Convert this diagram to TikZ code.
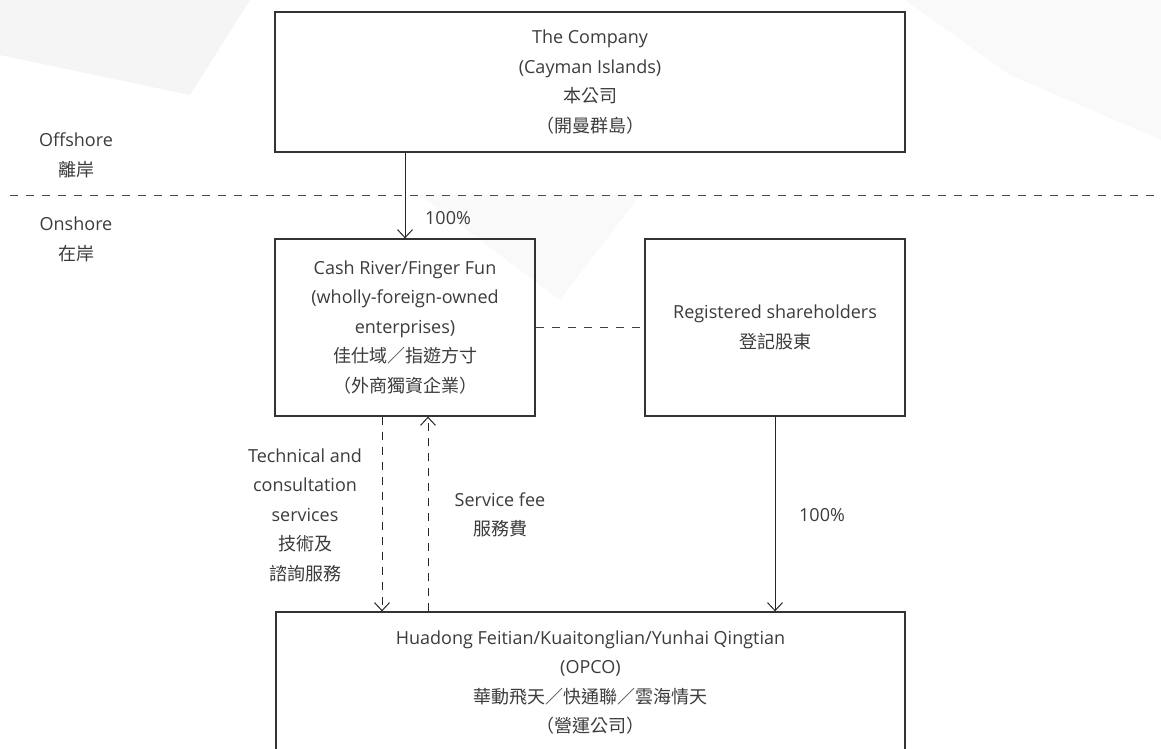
\documentclass[tikz,border=0pt]{standalone}
\usepackage{fontspec}
\setmainfont{Open Sans}
\newfontfamily\cjk{Noto Sans CJK TC}
\usetikzlibrary{arrows.meta,positioning,calc}
\definecolor{inkgray}{HTML}{3C3C3C}
\definecolor{boxline}{HTML}{333333}
\definecolor{bgtint}{HTML}{F5F5F5}
\definecolor{bgtintlight}{HTML}{F9F9F9}

\begin{document}
\begin{tikzpicture}[x=1pt,y=-1pt,
    entity/.style={
        rectangle,
        draw=boxline,
        line width=1.3pt,
        align=center,
        text=inkgray,
        inner sep=0pt,
        font=\fontsize{18}{29.5}\selectfont
    },
    note/.style={
        align=center,
        text=inkgray,
        inner sep=0pt,
        font=\fontsize{18}{29.5}\selectfont
    },
    own/.style={
        draw=black!85,
        line width=1pt,
        -{Straight Barb[length=8pt,width=15pt]}
    },
    fee/.style={own, dash pattern=on 8pt off 7pt},
    link/.style={draw=black!75, line width=1pt, dash pattern=on 8pt off 8pt}
]
\useasboundingbox (0,0) rectangle (1161,749);
\fill[white] (0,0) rectangle (1161,749);
% faint background shapes
\fill[bgtint] (0,0) -- (250,0) -- (190,95) -- (0,55) -- cycle;
\fill[bgtintlight] (905,0) -- (1161,0) -- (1161,140) -- (1010,75) -- cycle;
\fill[bgtintlight] (420,195) -- (640,195) -- (560,300) -- cycle;

% --- offshore / onshore ---
\node[note] (offshore) at (76,155.5) {Offshore\\{\cjk 離岸}};
\node[note] (onshore)  at (76,239.5) {Onshore\\{\cjk 在岸}};
\draw[link, draw=black!70] (10,195) -- (1161,195);

% --- entities ---
\node[entity, minimum width=630pt, minimum height=140pt] (company) at (590,82)
    {The Company\\(Cayman Islands)\\{\cjk 本公司}\\{\cjk （開曼群島）}};
\node[entity, minimum width=260pt, minimum height=177pt] (wfoe) at (405,327.5)
    {Cash River/Finger Fun\\(wholly-foreign-owned\\enterprises)\\{\cjk 佳仕域／指遊方寸}\\{\cjk （外商獨資企業）}};
\node[entity, minimum width=260pt, minimum height=177pt] (holders) at (775,327.5)
    {Registered shareholders\\{\cjk 登記股東}};
\node[entity, minimum width=629pt, minimum height=141pt] (opco) at (590.5,682.5)
    {Huadong Feitian/Kuaitonglian/Yunhai Qingtian\\(OPCO)\\{\cjk 華動飛天／快通聯／雲海情天}\\{\cjk （營運公司）}};

% --- ownership ---
\draw[own] (company.south -| wfoe.north) -- (wfoe.north);
\node[note] (pcttop) at (448,218) {100\%};
\draw[own] (holders.south) -- (holders.south |- opco.north);
\node[note] (pctright) at (822,515) {100\%};
\draw[link] (wfoe.east) -- (holders.west);

% --- contractual flows ---
\coordinate (svcdown) at ([xshift=-23pt]wfoe.south);
\coordinate (feeup) at ([xshift=23pt]wfoe.south);
\draw[fee] (svcdown) -- (svcdown |- opco.north);
\draw[fee] (feeup |- opco.north) -- (feeup);
\node[note] (svclabel) at (305,515)
    {Technical and\\consultation\\services\\{\cjk 技術及}\\{\cjk 諮詢服務}};
\node[note] (feelabel) at (500,515) {Service fee\\{\cjk 服務費}};
\end{tikzpicture}
\end{document}
